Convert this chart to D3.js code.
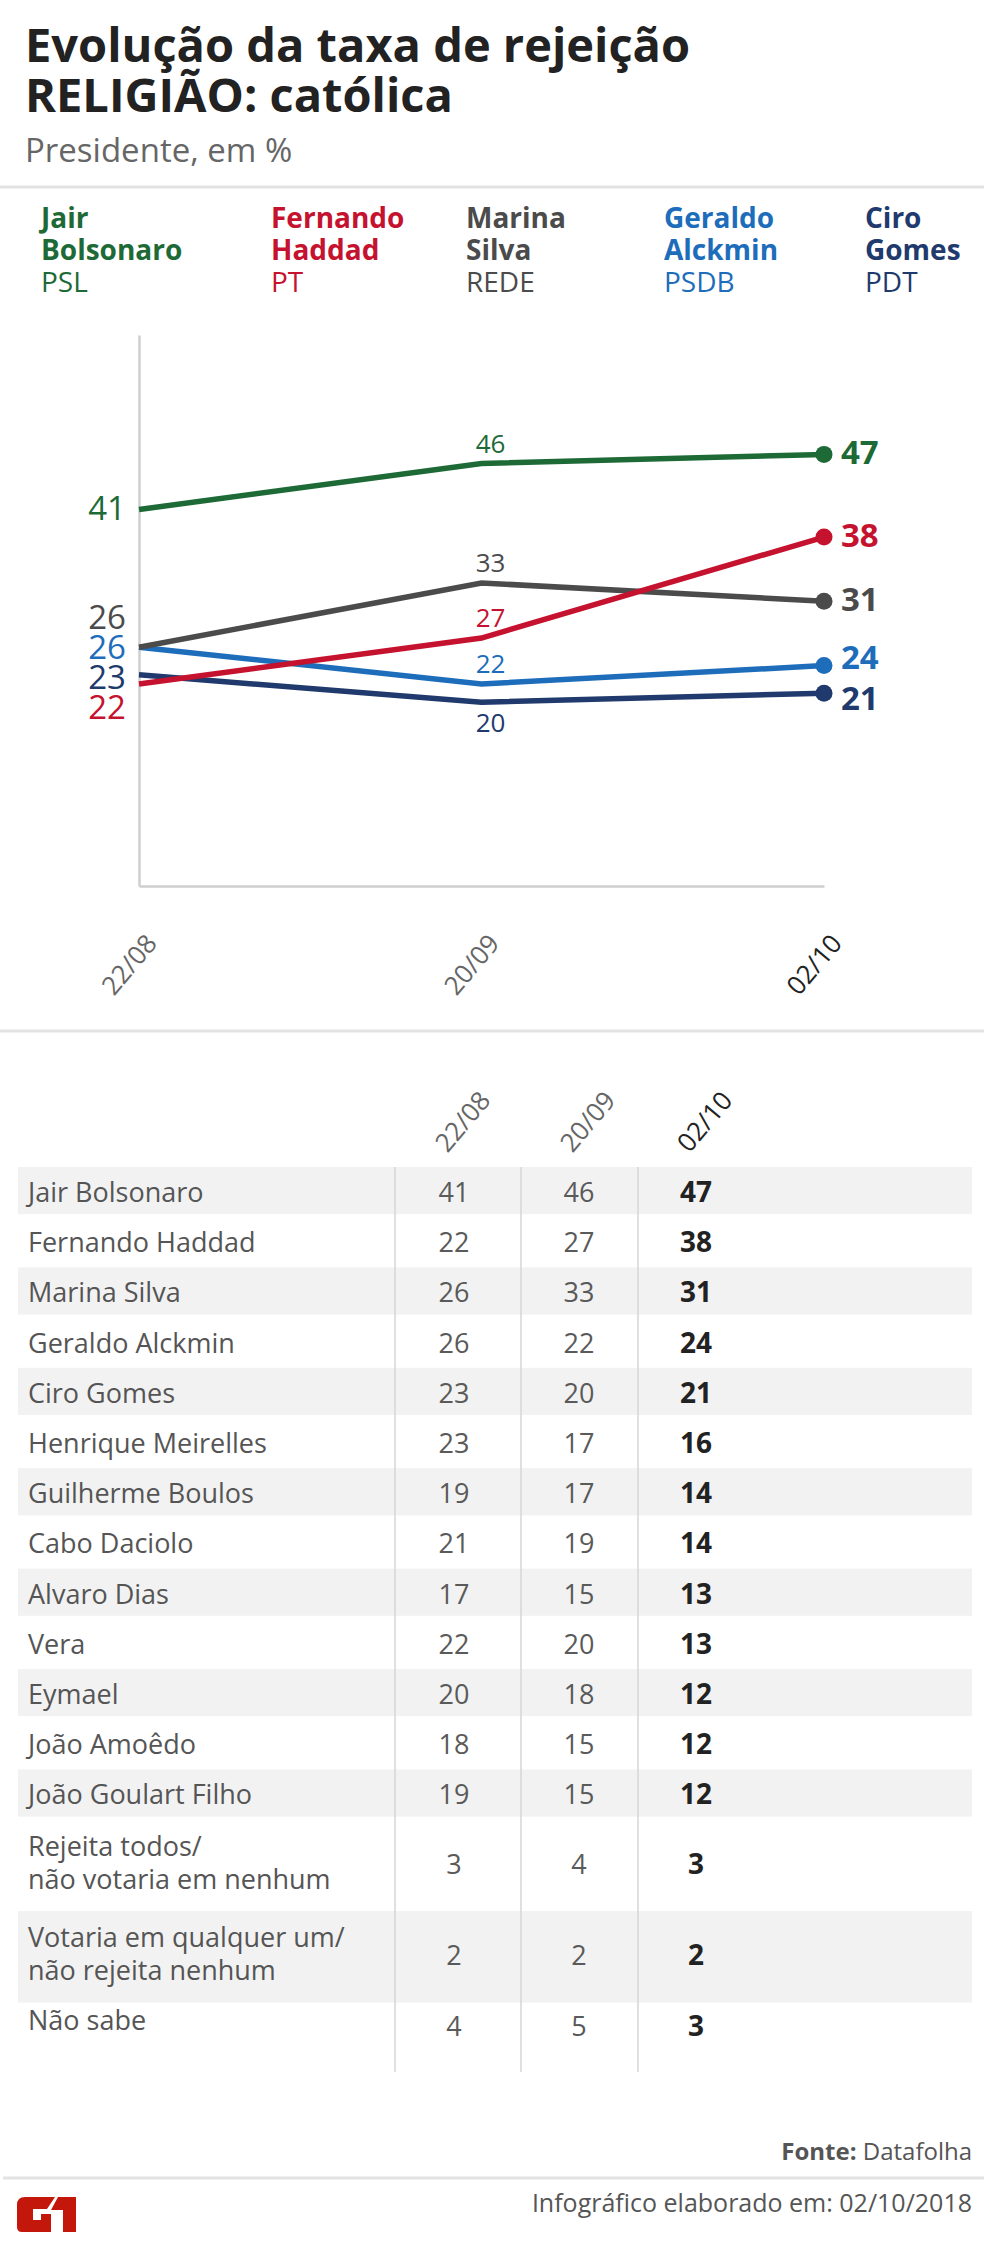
<!DOCTYPE html>
<html>
<head>
<meta charset="utf-8">
<script src="https://cdnjs.cloudflare.com/ajax/libs/d3/7.8.5/d3.min.js"></script>
<style>
    body { margin: 0; background: #fff; }
    svg { display: block; font-family: "Open Sans", sans-serif; }
</style>
</head>
<body>
<div id="chart"></div>
<script>
// survey dates
var dates = ["22/08", "20/09", "02/10"];

// candidates shown in the line chart
var seriesNames = [["Jair", "Bolsonaro"], ["Fernando", "Haddad"], ["Marina", "Silva"], ["Geraldo", "Alckmin"], ["Ciro", "Gomes"]];
var seriesParties = ["PSL", "PT", "REDE", "PSDB", "PDT"];
var seriesColors = ["#1d6a37", "#c5122f", "#4b4b4b", "#1d6dbb", "#213a6d"];
var seriesValues = [
    [41, 46, 47],
    [22, 27, 38],
    [26, 33, 31],
    [26, 22, 24],
    [23, 20, 21]
];

// table rows
var tableLabels = [
    ["Jair Bolsonaro"], ["Fernando Haddad"], ["Marina Silva"], ["Geraldo Alckmin"],
    ["Ciro Gomes"], ["Henrique Meirelles"], ["Guilherme Boulos"], ["Cabo Daciolo"],
    ["Alvaro Dias"], ["Vera"], ["Eymael"], ["João Amoêdo"], ["João Goulart Filho"],
    ["Rejeita todos/", "não votaria em nenhum"],
    ["Votaria em qualquer um/", "não rejeita nenhum"],
    ["Não sabe"]
];
var values2208 = [41, 22, 26, 26, 23, 23, 19, 21, 17, 22, 20, 18, 19, 3, 2, 4];
var values2009 = [46, 27, 33, 22, 20, 17, 17, 19, 15, 20, 18, 15, 15, 4, 2, 5];
var values0210 = [47, 38, 31, 24, 21, 16, 14, 14, 13, 13, 12, 12, 12, 3, 2, 3];

var W = 984, H = 2250;

var svg = d3.select("#chart").append("svg")
    .attr("width", W)
    .attr("height", H);

svg.append("rect").attr("width", W).attr("height", H).attr("fill", "#fff");

// ---- header ----
svg.append("text")
    .attr("x", 25).attr("y", 62)
    .style("font-size", "47px").style("font-weight", 700).style("fill", "#222")
    .text("Evolução da taxa de rejeição");
svg.append("text")
    .attr("x", 25).attr("y", 112)
    .style("font-size", "47px").style("font-weight", 700).style("fill", "#222")
    .text("RELIGIÃO: católica");
svg.append("text")
    .attr("x", 25).attr("y", 162)
    .style("font-size", "33px").style("fill", "#666")
    .text("Presidente, em %");

function hline(y, x0, x1) {
    svg.append("line")
        .attr("x1", x0).attr("x2", x1)
        .attr("y1", y).attr("y2", y)
        .attr("stroke", "#e3e3e3").attr("stroke-width", 3);
}
hline(187, 0, W);

// ---- legend ----
var legendX = [41, 271, 466, 664, 865];
var legend = svg.selectAll(".legend")
    .data(seriesNames)
    .enter()
    .append("text")
    .attr("class", "legend")
    .style("font-size", "28px")
    .style("fill", function(d, i) { return seriesColors[i]; });
legend.each(function(d, i) {
    var t = d3.select(this);
    d.forEach(function(line, k) {
        t.append("tspan")
            .attr("x", legendX[i]).attr("y", 228 + k * 32)
            .style("font-weight", 700)
            .text(line);
    });
    t.append("tspan")
        .attr("x", legendX[i]).attr("y", 228 + d.length * 32)
        .text(seriesParties[i]);
});

// ---- line chart ----
var x = d3.scalePoint().domain(dates).range([139, 824]);
var y = d3.scaleLinear().domain([0, 60]).range([886, 335]);

var gx = svg.append("g")
    .attr("transform", "translate(0," + y(0) + ")")
    .call(d3.axisBottom(x).tickSize(0).tickSizeOuter(0));
gx.select(".domain").attr("stroke", "#cfcfcf").attr("stroke-width", 2.5);
gx.selectAll(".tick text")
    .attr("y", null).attr("dy", null)
    .attr("text-anchor", "middle")
    .attr("dominant-baseline", "central")
    .attr("transform", "translate(-11,78) rotate(-50)")
    .style("font-family", "Open Sans")
    .style("font-size", "26px")
    .style("fill", function(d, i) { return i === dates.length - 1 ? "#222" : "#666"; });

var gy = svg.append("g")
    .attr("transform", "translate(" + x(dates[0]) + ",0)")
    .call(d3.axisLeft(y).tickValues([]).tickSizeOuter(0));
gy.select(".domain").attr("stroke", "#cfcfcf").attr("stroke-width", 2.5);

var line = d3.line()
    .x(function(d, i) { return x(dates[i]); })
    .y(function(d) { return y(d); });

// draw order: red on top
var drawOrder = [4, 3, 2, 0, 1];
drawOrder.forEach(function(s) {
    svg.append("path")
        .datum(seriesValues[s])
        .attr("d", line)
        .attr("fill", "none")
        .attr("stroke", seriesColors[s])
        .attr("stroke-width", 5.5);
    svg.append("circle")
        .attr("cx", x(dates[dates.length - 1]))
        .attr("cy", y(seriesValues[s][dates.length - 1]))
        .attr("r", 8.5)
        .attr("fill", seriesColors[s]);
});

// spread overlapping labels around their ideal positions
function dodge(ideals, gap) {
    var order = ideals.map(function(d, i) { return i; })
        .sort(function(a, b) { return ideals[a] - ideals[b]; });
    var groups = order.map(function(i) { return { members: [i], mean: ideals[i] }; });
    var merged = true;
    while (merged) {
        merged = false;
        for (var g = 0; g < groups.length - 1; g++) {
            var a = groups[g], b = groups[g + 1];
            var aEnd = a.mean + (a.members.length - 1) * gap / 2;
            var bStart = b.mean - (b.members.length - 1) * gap / 2;
            if (bStart - aEnd < gap) {
                var m = a.members.concat(b.members);
                groups.splice(g, 2, { members: m, mean: d3.mean(m, function(k) { return ideals[k]; }) });
                merged = true;
                break;
            }
        }
    }
    var pos = [];
    groups.forEach(function(g) {
        var start = g.mean - (g.members.length - 1) * gap / 2;
        g.members.forEach(function(k, j) { pos[k] = start + j * gap; });
    });
    return pos;
}

// first point labels
var firstY = dodge(seriesValues.map(function(v) { return y(v[0]) + 11; }), 30);
svg.selectAll(".label-first")
    .data(seriesValues)
    .enter()
    .append("text")
    .attr("class", "label-first")
    .attr("x", x(dates[0]) - 13)
    .attr("y", function(d, i) { return firstY[i]; })
    .style("text-anchor", "end")
    .style("font-size", "33px")
    .style("fill", function(d, i) { return seriesColors[i]; })
    .text(function(d) { return d[0]; });

// middle point labels
var midMin = d3.min(seriesValues, function(v) { return v[1]; });
svg.selectAll(".label-mid")
    .data(seriesValues)
    .enter()
    .append("text")
    .attr("class", "label-mid")
    .attr("x", x(dates[1]) + 9)
    .attr("y", function(d) { return d[1] === midMin ? y(d[1]) + 30 : y(d[1]) - 11; })
    .style("text-anchor", "middle")
    .style("font-size", "26px")
    .style("fill", function(d, i) { return seriesColors[i]; })
    .text(function(d) { return d[1]; });

// last point labels
var lastY = dodge(seriesValues.map(function(v) { return y(v[2]) + 10; }), 41);
svg.selectAll(".label-last")
    .data(seriesValues)
    .enter()
    .append("text")
    .attr("class", "label-last")
    .attr("x", x(dates[2]) + 17)
    .attr("y", function(d, i) { return lastY[i]; })
    .style("text-anchor", "start")
    .style("font-size", "33px")
    .style("font-weight", 700)
    .style("fill", function(d, i) { return seriesColors[i]; })
    .text(function(d) { return d[2]; });

hline(1031, 0, W);

// ---- table ----
var col = d3.scaleOrdinal().domain(dates).range([454, 579, 696]);
var tableValues = [values2208, values2009, values0210];

// column headers
svg.selectAll(".col-head")
    .data(dates)
    .enter()
    .append("text")
    .attr("class", "col-head")
    .attr("transform", function(d) { return "translate(" + (col(d) + 8) + ",1121) rotate(-50)"; })
    .attr("text-anchor", "middle")
    .attr("dominant-baseline", "central")
    .style("font-size", "26px")
    .style("fill", function(d, i) { return i === dates.length - 1 ? "#222" : "#666"; })
    .text(function(d) { return d; });

// row positions from line counts
var rowTop = [], rowH = [];
var yy = 1167;
tableLabels.forEach(function(lbl) {
    var h = lbl.length > 1 ? 91.5 : 50.2;
    rowTop.push(yy);
    rowH.push(h);
    yy += h;
});
var tableBottom = 2072;
var lastRow = tableLabels.length - 1;

var rows = svg.selectAll(".row")
    .data(tableLabels)
    .enter()
    .append("g")
    .attr("class", "row")
    .attr("transform", function(d, i) { return "translate(0," + rowTop[i] + ")"; });

rows.each(function(d, i) {
    if (i % 2 === 0) {
        d3.select(this).append("rect")
            .attr("x", 18)
            .attr("width", 972 - 18)
            .attr("height", rowH[i] - (d.length > 1 ? 0 : 3))
            .attr("fill", "#f2f2f2");
    }
});

rows.append("text")
    .attr("x", 28)
    .style("font-size", "27px")
    .style("fill", "#555")
    .each(function(d, i) {
        var t = d3.select(this);
        var first = d.length > 1 ? 36 : (i === lastRow ? 27 : 35);
        d.forEach(function(lineText, k) {
            t.append("tspan").attr("x", 28).attr("y", first + k * 33).text(lineText);
        });
    });

dates.forEach(function(dt, c) {
    rows.append("text")
        .attr("x", col(dt))
        .attr("y", function(d, i) { return d.length > 1 ? 54 : (i === lastRow ? 33 : 35); })
        .style("text-anchor", "middle")
        .style("font-size", c === dates.length - 1 ? "28px" : "27px")
        .style("font-weight", c === dates.length - 1 ? 700 : 400)
        .style("fill", c === dates.length - 1 ? "#222" : "#5a5a5a")
        .text(function(d, i) { return tableValues[c][i]; });
});

// column separators
var sepX = [395, 521, 638];
svg.selectAll(".col-sep")
    .data(sepX)
    .enter()
    .append("line")
    .attr("class", "col-sep")
    .attr("x1", function(d) { return d; })
    .attr("x2", function(d) { return d; })
    .attr("y1", rowTop[0])
    .attr("y2", tableBottom)
    .attr("stroke", "#d6d6d6")
    .attr("stroke-width", 1.5);

// ---- footer ----
var fonte = svg.append("text")
    .attr("x", 972).attr("y", 2160)
    .style("text-anchor", "end")
    .style("font-size", "24px")
    .style("fill", "#555");
fonte.append("tspan").style("font-weight", 700).text("Fonte: ");
fonte.append("tspan").text("Datafolha");

hline(2178, 3, W);

svg.append("text")
    .attr("x", 972).attr("y", 2212)
    .style("text-anchor", "end")
    .style("font-size", "25px")
    .style("fill", "#555")
    .text("Infográfico elaborado em: 02/10/2018");

// G1 logo
var logo = svg.append("g").attr("transform", "translate(17,2197)").attr("fill", "#c4170c");
logo.append("path").attr("d", "M0,8 Q0,0 8,0 L38,0 L30,12 L16,12 L16,23 L24,23 L24,17 L34,17 L34,35 L5,35 Q0,35 0,30 Z");
logo.append("path").attr("d", "M41,0 L59,0 L59,35 L46,35 L46,13 L34,13 Z");
</script>
</body>
</html>
